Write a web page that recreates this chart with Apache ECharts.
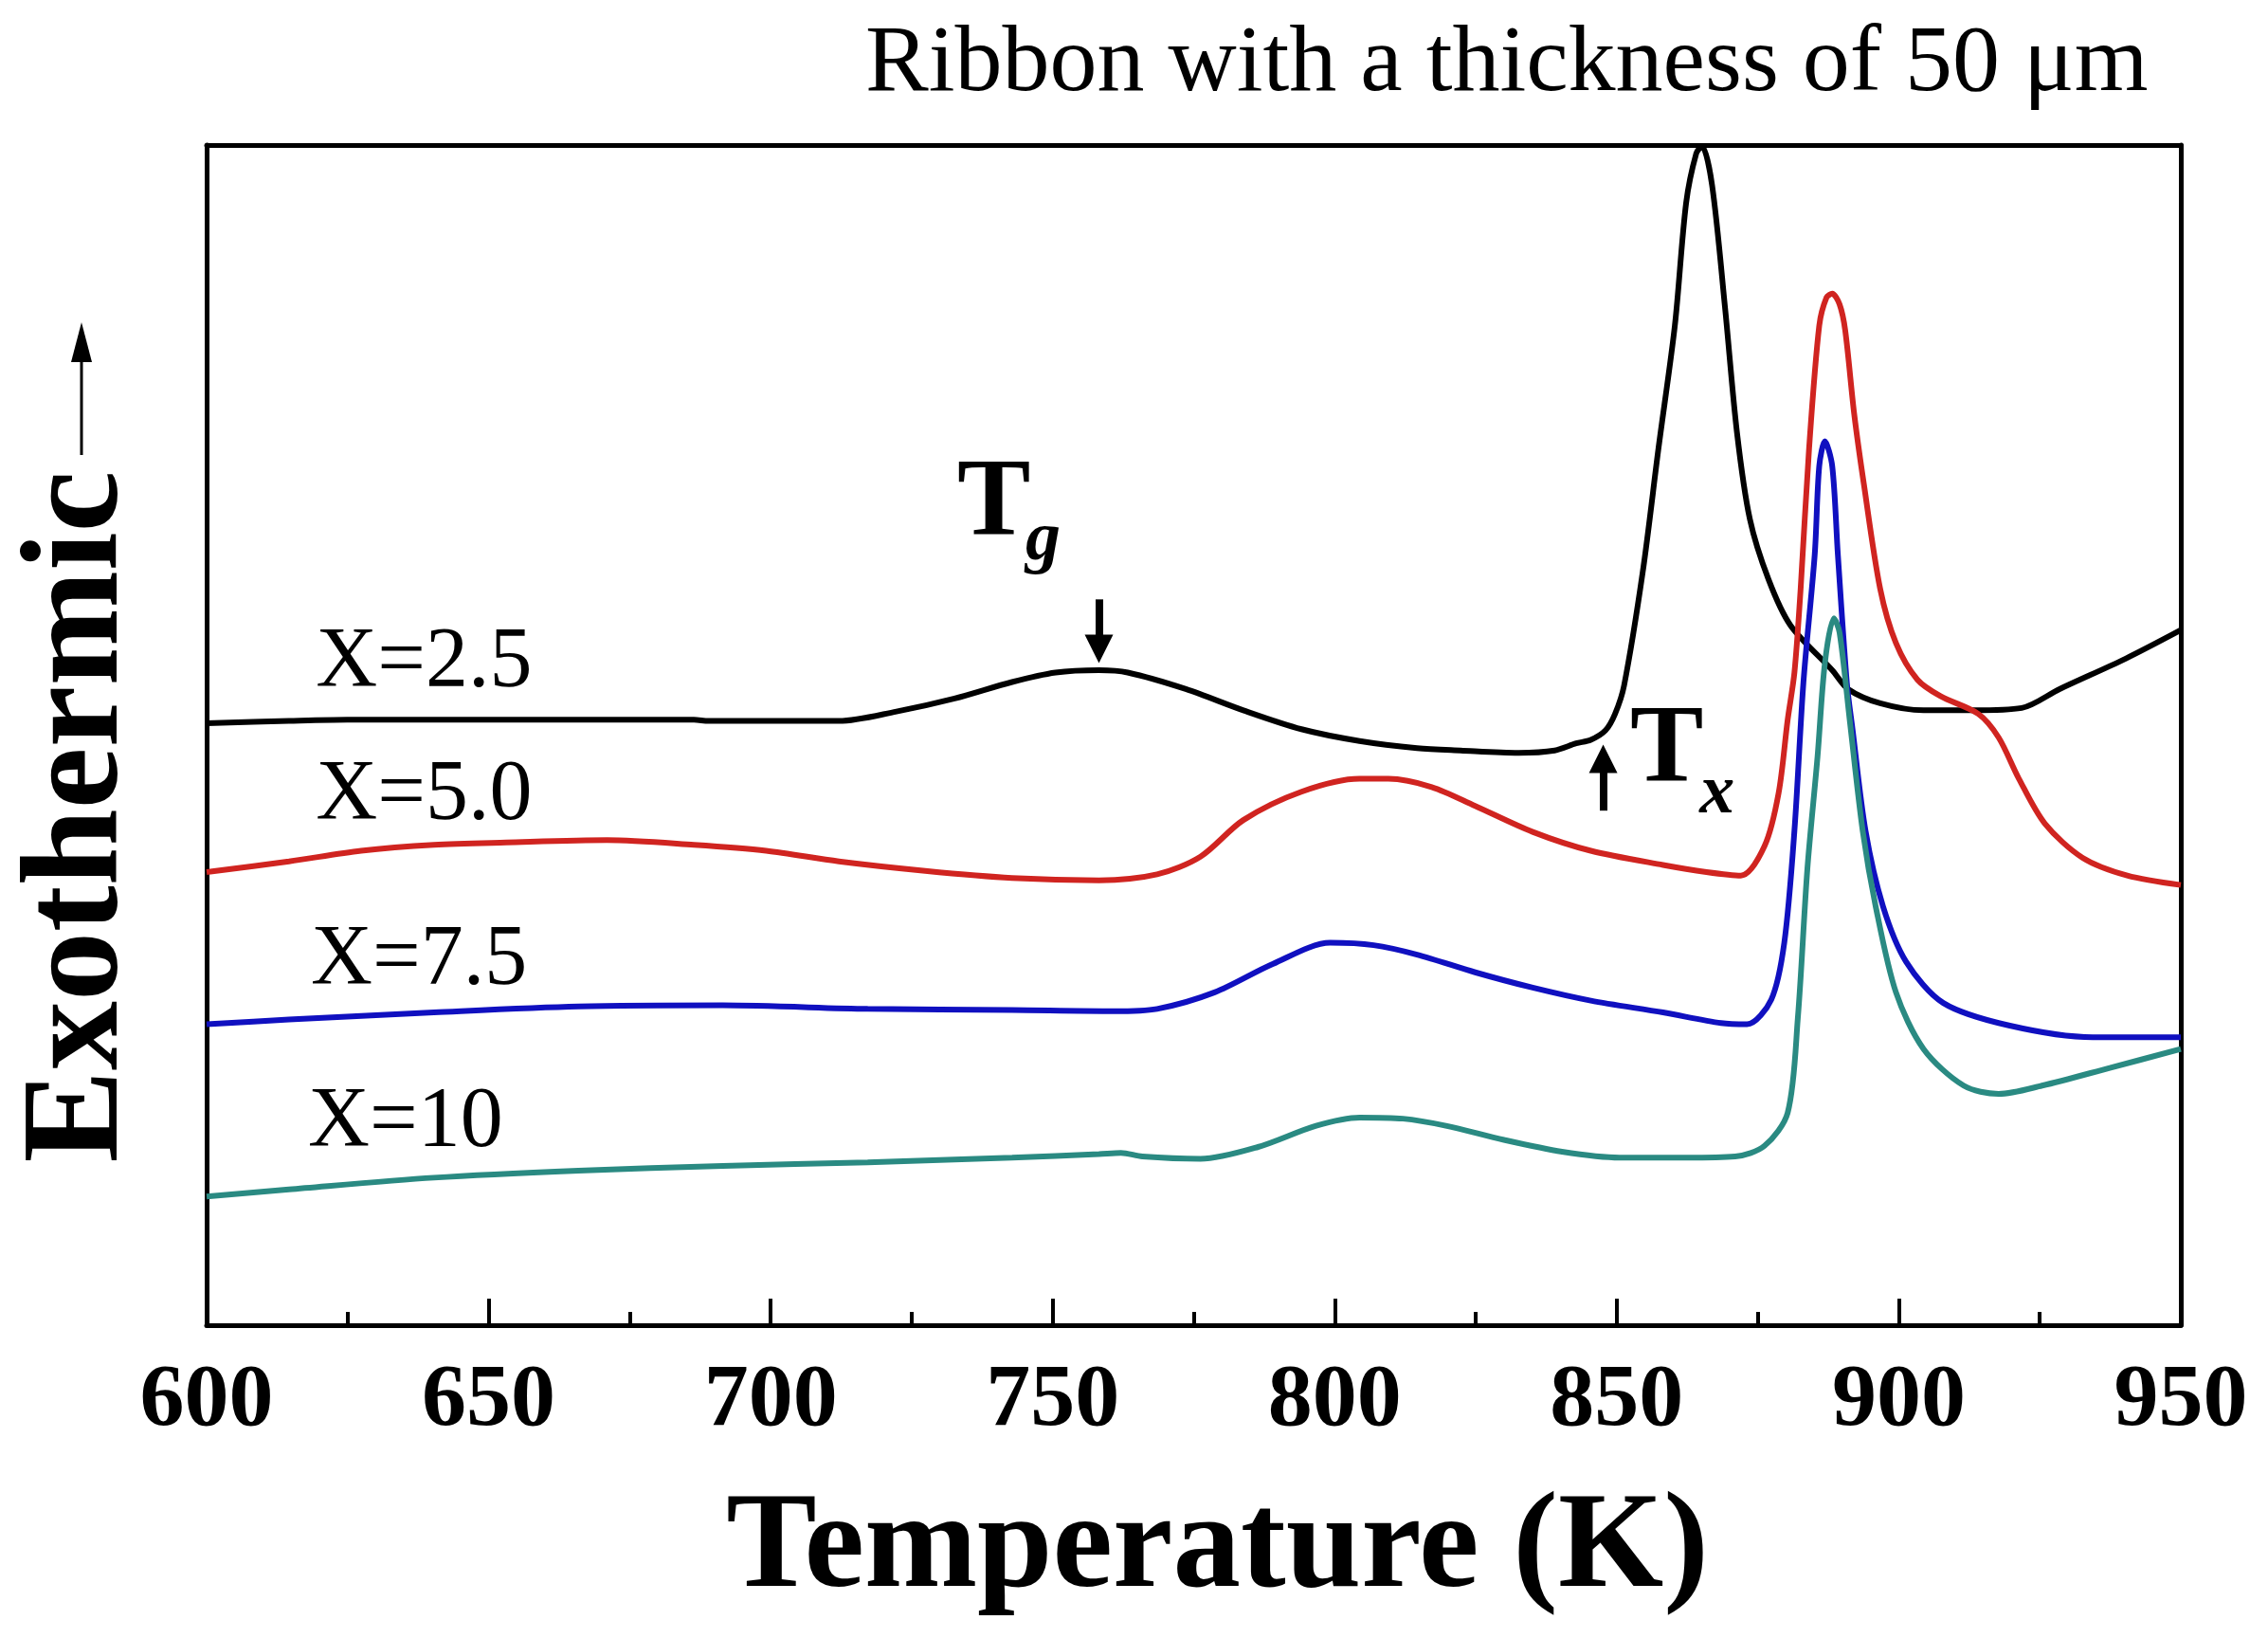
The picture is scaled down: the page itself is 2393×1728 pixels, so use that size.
<!DOCTYPE html>
<html>
<head>
<meta charset="utf-8">
<script src="https://cdn.jsdelivr.net/npm/echarts@6/dist/echarts.min.js"></script>
<style>
html,body{margin:0;padding:0;background:#fff;}
#chart{width:2393px;height:1728px;}
</style>
</head>
<body>
<div id="chart"></div>
<script>
// ---- data (temperature in K, signal in arbitrary units 0-100) ----
const xTicks = [600, 650, 700, 750, 800, 850, 900, 950];

const tempX25 = [600.0,614.6,624.9,640.3,665.9,686.4,689.0,712.1,722.3,732.6,742.8,750.5,758.2,763.3,773.6,783.8,794.1,804.4,814.6,822.3,832.6,839.0,842.8,845.4,848.0,849.7,851.3,854.6,857.4,860.3,862.3,864.1,865.1,866.9,869.2,871.3,873.6,876.9,880.8,888.2,891.0,896.7,904.4,913.3,921.8,928.5,940.3,950.0];
const valX25  = [51.0,51.2,51.3,51.3,51.3,51.3,51.2,51.2,52.0,53.1,54.5,55.3,55.5,55.3,53.9,52.1,50.5,49.5,48.9,48.7,48.5,48.7,49.3,49.6,50.4,51.8,54.2,63.8,74.3,84.7,95.1,99.3,99.9,96.6,86.2,75.7,68.3,63.2,59.3,55.5,53.9,52.7,52.1,52.1,52.3,53.9,56.5,58.9];

const tempX50 = [600.0,614.6,627.4,640.3,653.1,671.0,686.4,699.2,712.1,727.4,742.8,758.2,768.5,776.2,783.8,794.1,804.4,809.5,817.2,824.9,835.1,845.4,858.2,865.9,872.0,876.2,878.7,880.3,881.5,882.6,884.1,885.9,887.2,888.2,889.5,890.5,892.1,893.8,896.7,899.5,903.3,907.4,914.1,917.7,921.3,925.9,932.6,940.5,950.0];
const valX50  = [38.4,39.3,40.2,40.7,40.9,41.1,40.7,40.2,39.3,38.5,37.9,37.7,38.2,39.7,42.8,45.2,46.3,46.3,45.6,44.0,41.8,40.2,39.0,38.4,38.1,40.6,45.1,51.3,55.3,62.4,74.3,84.7,87.1,87.4,86.5,84.3,77.2,71.3,62.4,57.8,54.7,53.3,51.8,49.8,46.3,42.5,39.6,38.1,37.3];

const tempX75 = [600.0,614.6,640.3,665.9,691.5,717.2,742.8,760.8,768.5,778.7,789.0,799.2,806.9,814.6,824.9,835.1,845.4,858.2,868.5,873.1,877.4,879.7,881.5,883.1,885.1,885.9,886.9,888.2,889.2,890.8,891.8,894.1,897.2,901.3,907.9,919.5,934.4,950.0];
const valX75  = [25.5,25.9,26.5,27.0,27.1,26.8,26.7,26.6,26.8,28.2,30.6,32.4,32.2,31.4,29.9,28.6,27.5,26.5,25.6,25.5,27.6,32.4,41.9,54.5,65.3,72.8,74.9,72.8,65.3,54.4,50.5,41.9,35.5,30.8,27.3,25.4,24.4,24.4];

const tempX10 = [600.0,614.6,640.3,665.9,691.5,717.2,742.8,758.2,762.1,765.9,776.2,786.4,796.7,804.4,812.1,819.7,830.0,840.3,850.5,862.3,871.0,876.2,880.3,882.1,883.8,885.6,886.9,888.5,889.5,891.3,893.6,895.9,899.5,904.4,911.5,917.7,925.4,937.4,950.0];
const valX10  = [10.9,11.5,12.5,13.1,13.5,13.8,14.2,14.5,14.6,14.3,14.1,15.1,16.9,17.6,17.5,16.9,15.7,14.7,14.2,14.2,14.3,15.2,18.0,26.0,38.7,48.2,56.1,59.9,58.7,51.3,41.9,35.5,28.2,23.4,20.3,19.6,20.3,21.8,23.4];

const seriesNames = ['X=2.5', 'X=5.0', 'X=7.5', 'X=10'];
const seriesColors = ['#000000', '#d02420', '#1010c0', '#2a8a82'];
// label anchor points [T, value] for each curve name
const labelPos = [[619.3, 56.0], [619.3, 44.8], [618.4, 30.8], [617.9, 17.1]];

const FONT = '"Liberation Serif", "Times New Roman", serif';

function zip(t, v) { return t.map((x, i) => [x, v[i]]); }

function labelPoint(coord, text, size, style) {
  return {
    coord: coord,
    symbol: 'circle',
    symbolSize: 1,
    itemStyle: { color: 'rgba(0,0,0,0)' },
    label: {
      show: true, position: 'right', distance: 0, formatter: text,
      fontFamily: FONT, fontSize: size, color: '#000',
      fontWeight: style.weight || 'normal', fontStyle: style.italic ? 'italic' : 'normal'
    }
  };
}

const chart = echarts.init(document.getElementById('chart'), null, { renderer: 'canvas' });

const lineData = [zip(tempX25, valX25), zip(tempX50, valX50), zip(tempX75, valX75), zip(tempX10, valX10)];

const series = lineData.map((d, i) => {
  const s = {
    name: seriesNames[i],
    type: 'line',
    data: d,
    showSymbol: false,
    smooth: 0.3,
    lineStyle: { color: seriesColors[i], width: 6 },
    itemStyle: { color: seriesColors[i] },
    animation: false,
    markPoint: {
      silent: true,
      animation: false,
      data: [labelPoint(labelPos[i], seriesNames[i], 90, {})]
    }
  };
  if (i === 0) {
    s.markPoint.data.push(
      labelPoint([733.0, 69.5], 'T', 116, { weight: 'bold' }),
      labelPoint([745.1, 66.4], 'g', 74, { weight: 'bold', italic: true }),
      labelPoint([852.3, 48.6], 'T', 116, { weight: 'bold' }),
      labelPoint([864.6, 45.0], 'x', 74, { weight: 'bold', italic: true })
    );
    s.markLine = {
      silent: true,
      animation: false,
      symbol: ['none', 'triangle'],
      symbolSize: [30, 30],
      label: { show: false },
      lineStyle: { color: '#000', width: 8, type: 'solid' },
      data: [
        [{ coord: [758.2, 61.5] }, { coord: [758.2, 57.3] }],
        [{ coord: [847.6, 43.6] }, { coord: [847.6, 48.0] }]
      ]
    };
  }
  return s;
});

const frameLine = { show: true, onZero: false, lineStyle: { color: '#000', width: 5 } };

const option = {
  backgroundColor: '#fff',
  animation: false,
  title: {
    text: 'Ribbon with a thickness of 50 μm',
    left: 913, top: 19, padding: 0,
    textStyle: { fontFamily: FONT, fontSize: 100, fontWeight: 'normal', color: '#000', lineHeight: 100 }
  },
  grid: { left: 218, right: 92, top: 153, bottom: 330, containLabel: false },
  xAxis: [
    {
      type: 'value', position: 'bottom', min: xTicks[0], max: xTicks[xTicks.length - 1], interval: 50,
      axisLine: frameLine,
      axisTick: { show: true, inside: true, length: 28, lineStyle: { color: '#000', width: 4 } },
      minorTick: { show: true, splitNumber: 2, length: 14, lineStyle: { color: '#000', width: 4 } },
      splitLine: { show: false }, minorSplitLine: { show: false },
      axisLabel: { fontFamily: FONT, fontWeight: 'bold', fontSize: 94, color: '#000', margin: 34 },
      name: 'Temperature (K)', nameLocation: 'middle', nameGap: 167,
      nameTextStyle: { fontFamily: FONT, fontWeight: 'bold', fontSize: 143, color: '#000', padding: [0, 0, 0, 50] }
    },
    {
      type: 'value', position: 'top', min: xTicks[0], max: xTicks[xTicks.length - 1],
      axisLine: frameLine, axisTick: { show: false }, axisLabel: { show: false }, splitLine: { show: false }
    }
  ],
  yAxis: [
    {
      type: 'value', position: 'left', min: 0, max: 100,
      axisLine: frameLine, axisTick: { show: false }, axisLabel: { show: false }, splitLine: { show: false },
      name: 'Exothermic', nameLocation: 'middle', nameRotate: 90, nameGap: 60,
      nameTextStyle: { fontFamily: FONT, fontWeight: 'bold', fontSize: 146, color: '#000', padding: [0, 172, 0, 0] }
    },
    {
      type: 'value', position: 'right', min: 0, max: 100,
      axisLine: frameLine, axisTick: { show: false }, axisLabel: { show: false }, splitLine: { show: false }
    }
  ],
  graphic: [
    { type: 'line', silent: true, shape: { x1: 86, y1: 480, x2: 86, y2: 370 }, style: { stroke: '#000', lineWidth: 3 } },
    { type: 'polygon', silent: true, shape: { points: [[86, 340], [75, 382], [97, 382]] }, style: { fill: '#000' } }
  ],
  series: series
};

chart.setOption(option);
</script>
</body>
</html>
